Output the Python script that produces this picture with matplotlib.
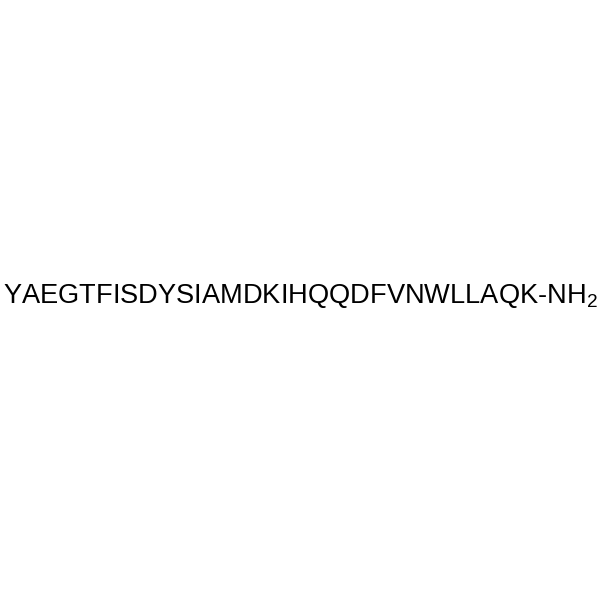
import matplotlib
matplotlib.use("Agg")
import matplotlib.pyplot as plt

# peptide sequence label
sequence = "YAEGTFISDYSIAMDKIHQQDFVNWLLAQK"
c_term = "NH"
c_term_sub = "2"

plt.rcParams['font.family'] = ['Liberation Sans', 'DejaVu Sans']
plt.rcParams['mathtext.fontset'] = 'custom'
plt.rcParams['mathtext.rm'] = 'Liberation Sans'
plt.rcParams['mathtext.it'] = 'Liberation Sans'

fig = plt.figure(figsize=(6, 6), dpi=100)
ax = fig.add_axes([0, 0, 1, 1])
ax.set_xlim(0, 600)
ax.set_ylim(600, 0)
ax.axis('off')

label = sequence + "-" + c_term + r"$_{\mathrm{" + c_term_sub + "}}$"
ax.text(300.5, 303.5, label, fontsize=19.6, ha='center', va='baseline', color='black')

fig.savefig("out.png", dpi=100, facecolor='white')
